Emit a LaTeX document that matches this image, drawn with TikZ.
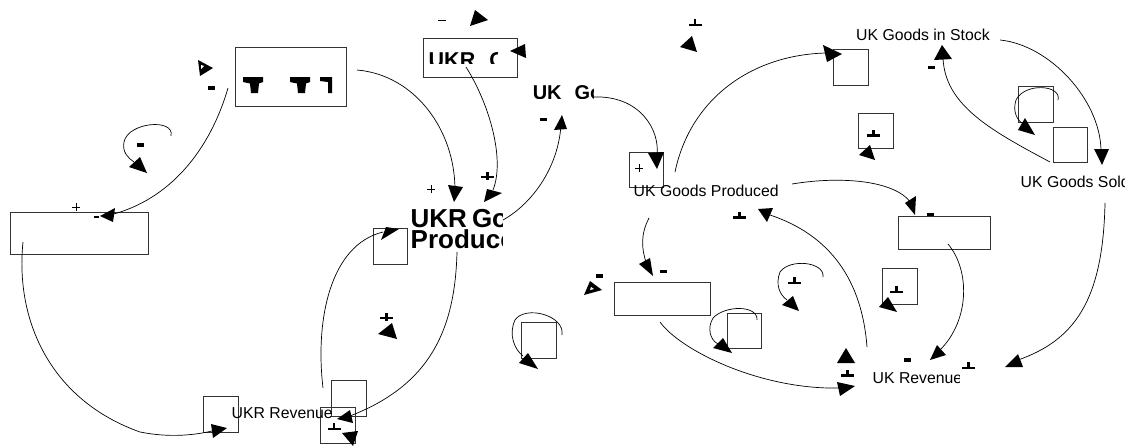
\documentclass[tikz,border=0pt]{standalone}
\usepackage{fontspec}
\setmainfont{Liberation Sans}
\newcommand\perpmark[2]{\fill ({#1-6.5},{#2-1.2}) rectangle ({#1+6.5},{#2+1.2}); \fill ({#1-1.2},{#2-1.2}) rectangle ({#1+1.2},{#2-6});}
\newcommand\minusmark[2]{\fill ({#1-3.5},{#2-1.8}) rectangle ({#1+3.5},{#2+1.8});}
\newcommand\plusbold[2]{\fill ({#1-6.5},{#2-1.2}) rectangle ({#1+6.5},{#2+1.2}); \fill ({#1-1.2},{#2-5}) rectangle ({#1+1.2},{#2+2.5});}
\newcommand\plusthin[2]{\draw[line width=0.7pt] ({#1-4},#2) -- ({#1+4},#2) ({#1},{#2-4}) -- ({#1},{#2+4});}
\begin{document}
\begin{tikzpicture}[x=1pt,y=-1pt,
  box/.style={draw=black!80, line width=0.8pt},
  link/.style={draw=black, line width=0.7pt},
  head/.style={fill=black},
  lbl/.style={font=\fontsize{15.8}{18}\selectfont, anchor=base west, inner sep=0pt},
  bigbold/.style={font=\bfseries\fontsize{26}{21.6}\selectfont, anchor=north west, inner sep=0pt, align=left},
  midbold/.style={font=\bfseries\fontsize{21.5}{24}\selectfont, anchor=base west, inner sep=0pt},
  smallbold/.style={font=\bfseries\fontsize{20}{23}\selectfont, anchor=base west, inner sep=0pt}]
\useasboundingbox (0,0) rectangle (1130,447);
\fill[white] (0,0) rectangle (1130,447);

% ---------- boxes ----------
\draw[box] (235,47) rectangle (346,106);
\draw[box] (10,212) rectangle (148,254);
\draw[box] (203,396) rectangle (238,432);
\draw[box] (331,380) rectangle (366,416);
\draw[box] (320,407) rectangle (355,443);
\draw[box] (373,228) rectangle (407,264);
\draw[box] (423,38) rectangle (517,77);
\draw[box] (629,152) rectangle (663,187);
\draw[box] (833,49) rectangle (868,85);
\draw[box] (858,113) rectangle (893,148);
\draw[box] (1018,86) rectangle (1053,122);
\draw[box] (1053,127) rectangle (1087,162);
\draw[box] (898,216) rectangle (990,249);
\draw[box] (882,268) rectangle (917,304);
\draw[box] (614,282) rectangle (710,315);
\draw[box] (727,313) rectangle (761,348);
\draw[box] (521,322) rectangle (556,358);

% ---------- glyph fragments in top-left box ----------
\fill (243,77) -- (263,77) -- (263,82) -- (259,83.5) -- (258,93) -- (251,93) -- (250,83.5) -- (243,82) -- cycle;
\fill (290,77) -- (310,77) -- (310,82) -- (306,83.5) -- (305,93) -- (298,93) -- (297,83.5) -- (290,82) -- cycle;
\fill (320,77) -- (332,77) -- (332,93) -- (328,93) -- (328,82) -- (320,81) -- cycle;

% ---------- texts ----------
\node[lbl] (stock) at (856,40.7) {UK Goods in Stock};
\node[lbl] (prod) at (633.5,196.7) {UK Goods Produced};
\begin{scope}
  \clip (1010,170) rectangle (1124,195);
  \node[lbl] (sold) at (1020.5,187.7) {UK Goods Sold};
\end{scope}
\begin{scope}
  \clip (860,360) rectangle (959,395);
  \node[lbl] (rev) at (872.5,383.7) {UK Revenue};
\end{scope}
\node[lbl] (ukrrev) at (231.5,418.7) {UKR Revenue};
\begin{scope}
  \clip (405,200) rectangle (502,250);
  \node[bigbold] (ukrgp) at (410.5,208) {UKR\kern5pt Goods\\Produced};
\end{scope}
\begin{scope}
  \clip (425,45) rectangle (497,63.5);
  \node[midbold] (ukrg) at (428.5,67) {UKR\kern14pt Goods};
\end{scope}
\begin{scope}
  \clip (530,84) rectangle (593,98.5);
  \node[smallbold] (ukg) at (532.6,99.3) {UK\kern13pt Goods};
\end{scope}

% ---------- connectors ----------
\draw[link] (228,88) .. controls (210,150) and (170,200) .. (110,215);
\draw[link] (171,136) .. controls (175,118) and (128,122) .. (124,142) .. controls (122,152) and (128,158) .. (134,162);
\draw[link] (23,242) .. controls (15,320) and (50,400) .. (140,432) .. controls (170,438) and (195,435) .. (212,431);
\draw[link] (457,252) .. controls (455,330) and (430,385) .. (350,416);
\draw[link] (323,388) .. controls (315,320) and (330,245) .. (383,232);
\draw[link] (357,70) .. controls (415,75) and (455,130) .. (455,190);
\draw[link] (466,67) .. controls (490,105) and (505,160) .. (493,190);
\draw[link] (503,220) .. controls (530,205) and (558,170) .. (561,125);
\draw[link] (593,97) .. controls (640,95) and (660,130) .. (657,155);
\draw[link] (675,172) .. controls (690,100) and (750,55) .. (826,53);
\draw[link] (1000,40) .. controls (1050,45) and (1100,100) .. (1101,150);
\draw[link] (1050,162) .. controls (990,130) and (945,105) .. (943,58);
\draw[link] (1058,100) .. controls (1062,85) and (1025,82) .. (1016,100) .. controls (1012,112) and (1018,122) .. (1024,124);
\draw[link] (1105,203) .. controls (1103,300) and (1075,340) .. (1018,360);
\draw[link] (792,184) .. controls (840,176) and (895,180) .. (911,203);
\draw[link] (948,244) .. controls (970,270) and (970,320) .. (940,350);
\draw[link] (867,347) .. controls (862,280) and (830,235) .. (770,215);
\draw[link] (823,277) .. controls (825,262) and (790,258) .. (780,272) .. controls (775,285) and (780,295) .. (787,300);
\draw[link] (649,218) .. controls (640,235) and (642,250) .. (646,262);
\draw[link] (660,322) .. controls (680,350) and (760,390) .. (840,388);
\draw[link] (757,320) .. controls (758,305) and (725,305) .. (713,318) .. controls (707,328) and (710,340) .. (718,344);
\draw[link] (562,335) .. controls (565,315) and (525,305) .. (515,320) .. controls (508,335) and (515,350) .. (523,356);

% ---------- arrowheads ----------
\fill[head] (100,216) -- (115,208) -- (113,222) -- cycle;
\fill[head] (198,60) -- (213,68) -- (200,76) -- cycle;
\fill[white] (201,65) -- (204,66) -- (201,69) -- cycle;
\fill[head] (140,157) -- (129,167) -- (147,173) -- cycle;
\fill[head] (211,424) -- (227,428) -- (213,438) -- cycle;
\fill[head] (337,419) -- (350,410) -- (353,423) -- cycle;
\fill[head] (342,433) -- (358,431) -- (353,446) -- cycle;
\fill[head] (381,240) -- (386,227) -- (399,229) -- cycle;
\fill[head] (448,185) -- (463,187) -- (454,202) -- cycle;
\fill[head] (487,189) -- (502,193) -- (484,202) -- cycle;
\fill[head] (554,130) -- (562,115) -- (567,129) -- cycle;
\fill[head] (470,26) -- (475,10) -- (488,20) -- cycle;
\fill[head] (510,51) -- (525,44) -- (526,58) -- cycle;
\fill[head] (648,153) -- (664,152) -- (657,169) -- cycle;
\fill[head] (680,47) -- (692,36) -- (697,52) -- cycle;
\fill[head] (823,45) -- (842,54) -- (827,62) -- cycle;
\fill[head] (859,155) -- (870,145) -- (875,160) -- cycle;
\fill[head] (934,60) -- (942,45) -- (952,59) -- cycle;
\fill[head] (1018,130) -- (1025,118) -- (1035,135) -- cycle;
\fill[head] (1094,149) -- (1109,149) -- (1102,165) -- cycle;
\fill[head] (905,203) -- (916,196) -- (915,215) -- cycle;
\fill[head] (758,209) -- (773,208) -- (767,222) -- cycle;
\fill[head] (639,264) -- (650,258) -- (653,276) -- cycle;
\fill[head] (584,295) -- (590,281) -- (602,290) -- cycle;
\fill[white] (590,290) -- (591,287) -- (594,289) -- cycle;
\fill[head] (782,305) -- (793,296) -- (799,311) -- cycle;
\fill[head] (879,307) -- (888,297) -- (897,312) -- cycle;
\fill[head] (837,363) -- (846,348) -- (855,363) -- cycle;
\fill[head] (837,382) -- (855,386) -- (840,396) -- cycle;
\fill[head] (930,360) -- (937,345) -- (946,355) -- cycle;
\fill[head] (1005,367) -- (1018,354) -- (1023,367) -- cycle;
\fill[head] (713,348) -- (723,338) -- (732,353) -- cycle;
\fill[head] (519,363) -- (528,353) -- (538,369) -- cycle;
\fill[head] (378,334) -- (392,323) -- (397,339) -- cycle;

% ---------- polarity marks ----------
\minusmark{211}{88}
\minusmark{140}{145}
\minusmark{543.5}{119.5}
\minusmark{931.5}{67.5}
\minusmark{930.5}{214.5}
\minusmark{663.5}{271.5}
\minusmark{599.5}{276}
\minusmark{907.5}{360}
\fill (94,216) rectangle (99,218);
\draw[line width=0.7pt] (438,20) -- (446,20);
\perpmark{873.5}{135.5}
\perpmark{739.5}{217.5}
\perpmark{695}{25}
\perpmark{794.5}{283}
\perpmark{896.5}{292}
\perpmark{847.5}{375.5}
\perpmark{968.5}{368}
\perpmark{334}{429}
\plusbold{386.5}{318}
\plusbold{487.5}{177}
\plusthin{76}{207}
\plusthin{431}{189}
\plusthin{639}{168}
\end{tikzpicture}
\end{document}
